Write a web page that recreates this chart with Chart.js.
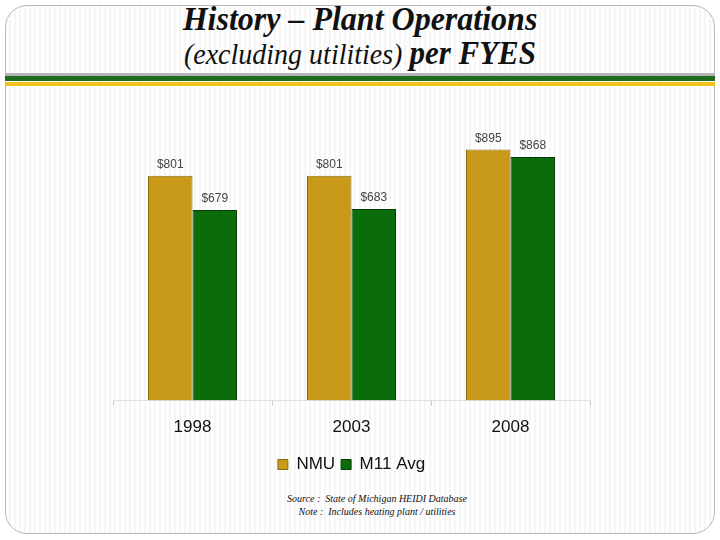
<!DOCTYPE html>
<html>
<head>
<meta charset="utf-8">
<script src="https://cdn.jsdelivr.net/npm/chart.js@4.4.1/dist/chart.umd.min.js"></script>
<style>
  html, body { margin: 0; padding: 0; width: 720px; height: 540px; overflow: hidden; background: #fff; }
  .slide {
    position: absolute; left: 5px; top: 5px; width: 708px; height: 527px;
    border: 1px solid #b8b8b8; border-radius: 22px;
    background: repeating-linear-gradient(90deg, #ffffff 0px, #ffffff 3px, #ececec 4px, #ffffff 5px);
  }
  .title1 { position: absolute; left: 0; width: 720px; top: 0px; text-align: center;
    font-family: "Liberation Serif", "DejaVu Serif", serif; font-style: italic; font-weight: bold; font-size: 32px; color: #111;
    transform: scaleY(1.08); }
  .title2 { position: absolute; left: 0; width: 720px; top: 35px; text-align: center;
    font-family: "Liberation Serif", "DejaVu Serif", serif; font-style: italic; font-size: 28px; color: #111;
    transform: scaleY(1.08); }
  .title2 b { font-size: 31px; }
  .band { position: absolute; left: 5px; width: 710px; }
  .note { position: absolute; left: 0; width: 754px; text-align: center;
    font-family: "Liberation Serif", serif; font-style: italic; font-size: 10px; color: #111; }
  #wrap { position: absolute; left: 0; top: 0; width: 720px; height: 540px; }
</style>
</head>
<body>
<div class="slide"></div>
<div class="title1">History – Plant Operations</div>
<div class="title2">(excluding utilities) <b>per FYES</b></div>
<div class="band" style="top:73px;height:3px;background:#b5b5b5"></div>
<div class="band" style="top:76px;height:5px;background:#1e6b1e"></div>
<div class="band" style="top:81px;height:1px;background:#ffffff"></div>
<div class="band" style="top:82px;height:4px;background:#f2c419"></div>
<div class="note" style="top:493px">Source :&nbsp; State of Michigan HEIDI Database</div>
<div class="note" style="top:506px">Note :&nbsp; Includes heating plant / utilities</div>
<div id="wrap"><canvas id="planChart"></canvas></div>
<script>
var years = ["1998", "2003", "2008"];
var nmuValues = [801, 801, 895];
var m11Values = [679, 683, 868];
var seriesNames = ["NMU", "M11 Avg"];

// draw "$801" style labels above every bar
var barLabels = {
    id: "barLabels",
    afterDatasetsDraw: function (chart) {
        var ctx = chart.ctx;
        ctx.save();
        ctx.font = "12px 'Liberation Sans', Arial, sans-serif";
        ctx.fillStyle = "#444";
        ctx.textAlign = "center";
        ctx.textBaseline = "bottom";
        chart.data.datasets.forEach(function (ds, i) {
            chart.getDatasetMeta(i).data.forEach(function (bar, j) {
                ctx.fillText("$" + ds.data[j], bar.x, bar.y - 5);
            });
        });
        ctx.restore();
    }
};

var chart = document.getElementById("planChart");
var ctx = chart.getContext("2d");
var chartInstance = new Chart(ctx, {
    type: "bar",
    data: {
        labels: years,
        datasets: [{
            label: seriesNames[0],
            data: nmuValues,
            backgroundColor: "#c99a1a",
            borderColor: "#8a6a10",
            borderWidth: 1
        }, {
            label: seriesNames[1],
            data: m11Values,
            backgroundColor: "#0b6c0b",
            borderColor: "#054005",
            borderWidth: 1
        }]
    },
    options: {
        responsive: true,
        maintainAspectRatio: false,
        animation: false,
        layout: { padding: { left: 113, right: 130, top: 120, bottom: 57 } },
        datasets: { bar: { barPercentage: 1, categoryPercentage: 0.56 } },
        scales: {
            x: {
                grid: { display: true, offset: true, drawOnChartArea: false, drawTicks: true, tickLength: 5, color: "#c8c8c8" },
                border: { display: true, color: "#e0e0e0" },
                ticks: { color: "#111", padding: 12, font: { size: 17, family: "'Liberation Sans', Arial, sans-serif" } }
            },
            y: {
                display: false,
                min: 0,
                max: 1000
            }
        },
        plugins: {
            legend: {
                position: "bottom",
                labels: {
                    boxWidth: 10, boxHeight: 10, padding: 6, color: "#111",
                    font: { size: 17, family: "'Liberation Sans', Arial, sans-serif" }
                }
            },
            tooltip: { enabled: false }
        }
    },
    plugins: [barLabels]
});
</script>
</body>
</html>
